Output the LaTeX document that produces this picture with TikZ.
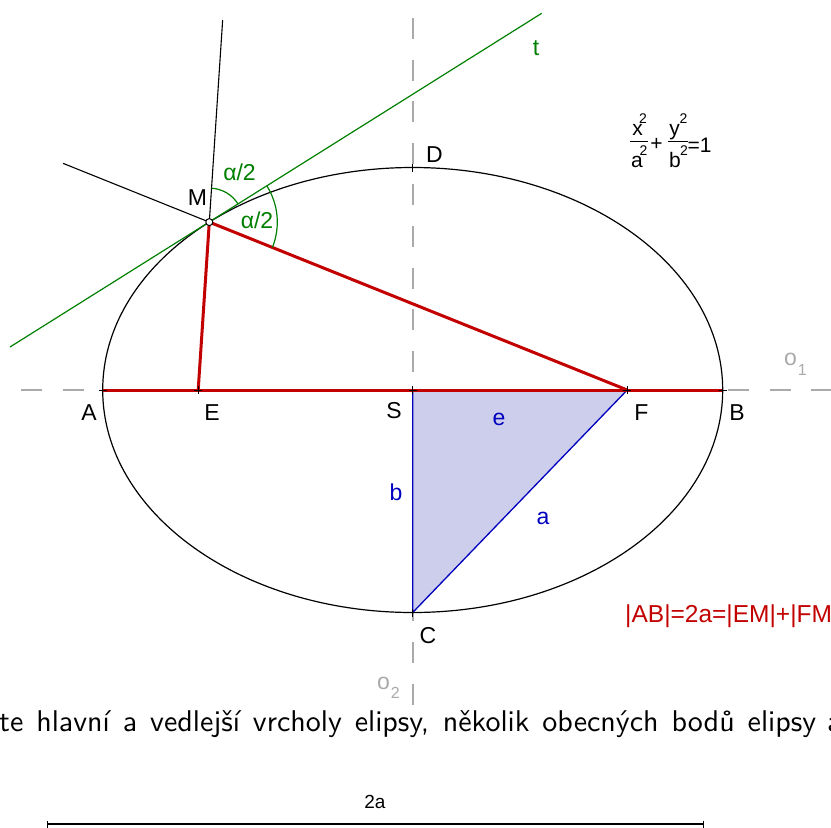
\documentclass[tikz,border=0pt]{standalone}
\usepackage{fontspec}
\setmainfont{Liberation Sans}
\newfontfamily\lmten{lmsans10-regular.otf}
\usetikzlibrary{calc}
\definecolor{ggred}{RGB}{195,0,0}
\definecolor{gggreen}{RGB}{0,128,0}
\definecolor{ggblue}{RGB}{0,0,190}
\definecolor{ggfill}{RGB}{205,205,236}
\definecolor{axisgray}{RGB}{170,170,170}
\begin{document}
\begin{tikzpicture}[x=1pt,y=-1pt,
  lbl/.style={inner sep=0pt, font=\fontsize{23}{27}\selectfont},
  fml/.style={inner sep=0pt, anchor=base, font=\fontsize{21}{24}\selectfont},
  sup/.style={inner sep=0pt, anchor=base, font=\fontsize{14}{16}\selectfont},
  axisline/.style={axisgray, line width=1.6pt, dash pattern=on 21pt off 20.6pt},
  redline/.style={ggred, line width=3pt, line join=round},
  thinline/.style={line width=1.1pt},
  greenline/.style={gggreen, line width=1.2pt},
  crossmark/.style={line width=1pt}]
\useasboundingbox (0,0) rectangle (831,828);
\fill[white] (0,0) rectangle (831,828);
% points
\coordinate (S) at (412.7,390);
\coordinate (A) at (102.7,390);
\coordinate (B) at (722.7,390);
\coordinate (E) at (198.2,390);
\coordinate (F) at (627.2,390);
\coordinate (D) at (412.7,167.5);
\coordinate (C) at (412.7,612.5);
\coordinate (M) at (209.3,222.1);
\coordinate (T1) at (10,347);
\coordinate (T2) at (541.7,13.3);
\coordinate (U) at ($(E)!2.2037!(M)$);
\coordinate (L) at ($(F)!1.35!(M)$);
\coordinate (H1) at (21,390);
\coordinate (H2) at (840,390);
\coordinate (V1) at (412.7,18);
\coordinate (V2) at (412.7,706);
% axes
\draw[axisline] (H1) -- (H2);
\draw[axisline] (V1) -- (V2);
% triangle
\filldraw[fill=ggfill, draw=ggblue, line width=1.3pt, line join=round] (S) -- (F) -- (C) -- cycle;
% ellipse
\draw[line width=1.2pt] (S) ellipse[x radius=310pt, y radius=222.5pt];
% red segments
\draw[redline] (A) -- (B);
\draw[redline] (E) -- (M) -- (F);
% black extensions
\draw[thinline] (M) -- (U);
\draw[thinline] (M) -- (L);
% tangent
\draw[greenline] (T1) -- (T2);
% angle arcs
\draw[greenline] ($(M)+(32.1:34pt)$) arc[start angle=32.1, end angle=86.2, radius=34pt];
\draw[greenline] ($(M)+(-21.9:68pt)$) arc[start angle=-21.9, end angle=32.1, radius=68pt];
% cross marks
\foreach \p in {A,E,S,F,B,C,D}
  \draw[crossmark] ($(\p)+(-4,0)$) -- ($(\p)+(4,0)$) ($(\p)+(0,-4)$) -- ($(\p)+(0,4)$);
% point M
\draw[fill=white, line width=1pt] (M) circle[radius=3.5pt];
% labels
\node[lbl] (lM) at (197.5,198) {M};
\node[lbl] (lD) at (434.5,154.5) {D};
\node[lbl] (lA) at (89,413) {A};
\node[lbl] (lE) at (212,413) {E};
\node[lbl] (lS) at (394,410.5) {S};
\node[lbl] (lF) at (641.5,412.5) {F};
\node[lbl] (lB) at (737,412.5) {B};
\node[lbl] (lC) at (428,636) {C};
\node[lbl, text=gggreen, anchor=base] (lt) at (536,55) {t};
\node[lbl, text=gggreen, anchor=base] (al1) at (239.5,180) {α/2};
\node[lbl, text=gggreen, anchor=base] (al2) at (257,228) {α/2};
\node[lbl, text=ggblue, anchor=base] (le) at (499,425) {e};
\node[lbl, text=ggblue] (lb) at (396,492) {b};
\node[lbl, text=ggblue] (la) at (543,518) {a};
\node[lbl, text=axisgray, anchor=base west] (o1) at (784,365) {o\kern1pt\raisebox{-10pt}{\fontsize{16}{18}\selectfont 1}};
\node[lbl, text=axisgray, anchor=base west] (o2) at (377,689) {o\kern1pt\raisebox{-9pt}{\fontsize{16}{18}\selectfont 2}};
% relation
\node[inner sep=0pt, anchor=base west, text=ggred, font=\fontsize{24.5}{28}\selectfont] (rel) at (625,622) {|AB|=2a=|EM|+|FM|};
% formula
\node[fml] (fx) at (637.5,135) {x};
\node[sup] (fx2) at (643,123) {2};
\node[fml] (fa) at (637,167) {a};
\node[sup] (fa2) at (643.5,155) {2};
\node[fml] (fplus) at (656.5,150.5) {+};
\node[fml] (fy) at (674.5,135) {y};
\node[sup] (fy2) at (683.5,123) {2};
\node[fml] (fb) at (675,167) {b};
\node[sup] (fb2) at (684,155) {2};
\node[fml, anchor=base west] (feq) at (687.5,152) {=1};
\coordinate (bar1a) at (630,141.7); \coordinate (bar1b) at (648,141.7);
\coordinate (bar2a) at (668,141.7); \coordinate (bar2b) at (688,141.7);
\draw[line width=1.2pt] (bar1a) -- (bar1b);
\draw[line width=1.2pt] (bar2a) -- (bar2b);
% bottom text
\node[inner sep=0pt, anchor=base west, font=\lmten\fontsize{30}{34}\selectfont] (txt) at (-1,731.5)
  {\makebox[817pt][s]{te hlavní a vedlejší vrcholy elipsy, několik obecných bodů elipsy}\kern11pt a};
% 2a segment
\node[inner sep=0pt, anchor=base, font=\fontsize{19}{22}\selectfont] (l2a) at (375,808) {2a};
\coordinate (P1) at (47,824);
\coordinate (P2) at (703,824);
\draw[line width=1.2pt] (P1) -- (P2);
\draw[line width=1pt] ($(P1)+(0,-3.5)$) -- ($(P1)+(0,3.5)$);
\draw[line width=1pt] ($(P2)+(0,-3.5)$) -- ($(P2)+(0,3.5)$);
\end{tikzpicture}
\end{document}
